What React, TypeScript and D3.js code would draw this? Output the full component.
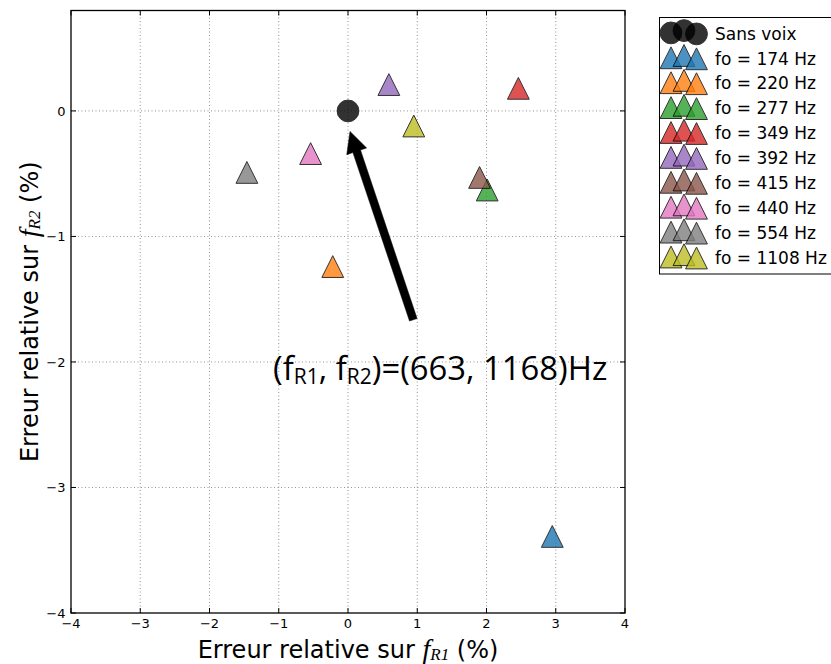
import React from "react";
import * as d3 from "d3";

const labels = ["Sans voix", "fo = 174 Hz", "fo = 220 Hz", "fo = 277 Hz", "fo = 349 Hz", "fo = 392 Hz", "fo = 415 Hz", "fo = 440 Hz", "fo = 554 Hz", "fo = 1108 Hz"];
const errR1 = [0, 2.95, -0.22, 2.01, 2.46, 0.59, 1.9, -0.54, -1.46, 0.95];
const errR2 = [0, -3.39, -1.24, -0.63, 0.18, 0.21, -0.53, -0.34, -0.49, -0.12];
const colors = ["#000000", "#1f77b4", "#ff7f0e", "#2ca02c", "#d62728", "#9467bd", "#8c564b", "#e377c2", "#7f7f7f", "#bcbd22"];
const shapes = ["circle", "tri", "tri", "tri", "tri", "tri", "tri", "tri", "tri", "tri"];
const xTicks = [-4, -3, -2, -1, 0, 1, 2, 3, 4];
const yTicks = [-4, -3, -2, -1, 0];
const arrowFrom = [0.943, -1.664];
const arrowTo = [0.029, -0.163];
const annotPos = [-1.083, -2.144];

const W = 831, H = 664;
const L = 71, R = 625, T = 10.5, B = 613;

const fmt = (v: number) => (v < 0 ? "\u2212" + Math.abs(v) : String(v));

function Marker({ shape, cx, cy, color }: { shape: string; cx: number; cy: number; color: string }) {
  const s = 10.9;
  if (shape === "circle") {
    return <circle cx={cx} cy={cy} r={s} fill={color} stroke="#000" strokeWidth={1} opacity={0.8} />;
  }
  const pts = `${cx},${cy - s} ${cx - s},${cy + s} ${cx + s},${cy + s}`;
  return <polygon points={pts} fill={color} stroke="#000" strokeWidth={1} opacity={0.8} strokeLinejoin="miter" />;
}

export default function App() {
  const x = d3.scaleLinear().domain([-4, 4]).range([L, R]);
  const y = d3.scaleLinear().domain([-4, 0.8]).range([B, T]);
  const font = "DejaVu Sans";

  const tx = x(arrowTo[0]), ty = y(arrowTo[1]);
  const fx = x(arrowFrom[0]), fy = y(arrowFrom[1]);
  const dx = tx - fx, dy = ty - fy;
  const len = Math.hypot(dx, dy);
  const ux = dx / len, uy = dy / len;
  const px = -uy, py = ux;
  const headLen = 21, headW = 10.5, shaftW = 4;
  const bx = tx - ux * headLen, by = ty - uy * headLen;
  const arrowPts = [
    [fx + px * shaftW, fy + py * shaftW],
    [bx + px * shaftW, by + py * shaftW],
    [bx + px * headW, by + py * headW],
    [tx, ty],
    [bx - px * headW, by - py * headW],
    [bx - px * shaftW, by - py * shaftW],
    [fx - px * shaftW, fy - py * shaftW],
  ].map((p) => p.join(",")).join(" ");

  const legX = 659.5, legY = 17.5, rowH = 24.9, row0 = 33.4;
  const mxs = [671, 684, 696.5];
  const myOff = [-0.5, -2.8, 0.5];

  return (
    <svg width={W} height={H} style={{ position: "absolute", left: 0, top: 0, background: "#fff" }}>
      <rect x={0} y={0} width={W} height={H} fill="#fff" />
      {xTicks.filter((v) => v > -4 && v < 4).map((v) => (
        <line key={"gx" + v} x1={x(v)} x2={x(v)} y1={T} y2={B} stroke="#000" strokeWidth={0.6} strokeDasharray="1,2.5" opacity={0.7} />
      ))}
      {yTicks.filter((v) => v > -4).map((v) => (
        <line key={"gy" + v} x1={L} x2={R} y1={y(v)} y2={y(v)} stroke="#000" strokeWidth={0.6} strokeDasharray="1,2.5" opacity={0.7} />
      ))}
      {xTicks.map((v) => (
        <g key={"tx" + v}>
          <line x1={x(v)} x2={x(v)} y1={B} y2={B - 5} stroke="#000" strokeWidth={1} />
          <line x1={x(v)} x2={x(v)} y1={T} y2={T + 5} stroke="#000" strokeWidth={1} />
          <text x={x(v)} y={627.5} fontFamily={font} fontSize={13} textAnchor="middle" fill="#000">{fmt(v)}</text>
        </g>
      ))}
      {yTicks.map((v) => (
        <g key={"ty" + v}>
          <line x1={L} x2={L + 5} y1={y(v)} y2={y(v)} stroke="#000" strokeWidth={1} />
          <line x1={R} x2={R - 5} y1={y(v)} y2={y(v)} stroke="#000" strokeWidth={1} />
          <text x={65.5} y={y(v) + 4.7} fontFamily={font} fontSize={13} textAnchor="end" fill="#000">{fmt(v)}</text>
        </g>
      ))}
      {labels.map((lab, i) => (
        <Marker key={lab} shape={shapes[i]} cx={x(errR1[i])} cy={y(errR2[i])} color={colors[i]} />
      ))}
      <rect x={L} y={T} width={R - L} height={B - T} fill="none" stroke="#000" strokeWidth={1.3} />
      <polygon points={arrowPts} fill="#000" stroke="#000" strokeWidth={0.5} />
      <text x={x(annotPos[0])} y={y(annotPos[1])} fontFamily="Open Sans" fontSize={32.8} fill="#000">
        (f<tspan fontSize={21} dy={4}>R1</tspan><tspan dy={-4}>, f</tspan><tspan fontSize={21} dy={4}>R2</tspan><tspan dy={-4}>)=(663, 1168)Hz</tspan>
      </text>
      <text x={(L + R) / 2} y={657.5} fontFamily={font} fontSize={24} textAnchor="middle" fill="#000">
        Erreur relative sur <tspan fontFamily="Liberation Serif" fontStyle="italic" fontSize={28}>f</tspan><tspan fontFamily="Liberation Serif" fontStyle="italic" fontSize={17} dy={2.5}>R1</tspan><tspan dy={-2.5}> (%)</tspan>
      </text>
      <text transform={`translate(37.5,${(T + B) / 2}) rotate(-90)`} fontFamily={font} fontSize={24} textAnchor="middle" fill="#000">
        Erreur relative sur <tspan fontFamily="Liberation Serif" fontStyle="italic" fontSize={28}>f</tspan><tspan fontFamily="Liberation Serif" fontStyle="italic" fontSize={17} dy={2.5}>R2</tspan><tspan dy={-2.5}> (%)</tspan>
      </text>
      <rect x={legX} y={legY} width={200} height={274 - legY} fill="#fff" stroke="#000" strokeWidth={1} />
      {labels.map((lab, i) => {
        const cy = row0 + rowH * i;
        return (
          <g key={"lg" + lab}>
            {mxs.map((mx, k) => (
              <Marker key={k} shape={shapes[i]} cx={mx} cy={cy + myOff[k]} color={colors[i]} />
            ))}
            <text x={715} y={cy + 6.2} fontFamily={font} fontSize={17} fill="#000">{lab}</text>
          </g>
        );
      })}
    </svg>
  );
}
